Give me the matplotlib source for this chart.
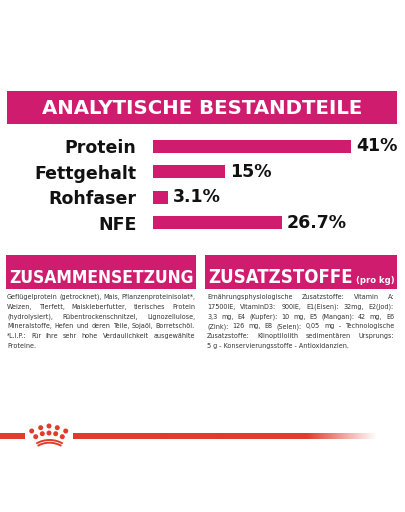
import numpy as np
import matplotlib
matplotlib.use("Agg")
import matplotlib.pyplot as plt
from matplotlib.patches import Rectangle, Circle, Arc

# data
categories = ["Protein", "Fettgehalt", "Rohfaser", "NFE"]
values = [41, 15, 3.1, 26.7]
value_labels = ["41%", "15%", "3.1%", "26.7%"]

title = "ANALYTISCHE BESTANDTEILE"
left_head = "ZUSAMMENSETZUNG"
right_head = "ZUSATZSTOFFE"
right_head_small = "(pro kg)"

left_lines = [
    "Geflügelprotein (getrocknet), Mais, Pflanzenproteinisolat*,",
    "Weizen, Tierfett, Maiskleberfutter, tierisches Protein",
    "(hydrolysiert), Rübentrockenschnitzel, Lignozellulose,",
    "Mineralstoffe, Hefen und deren Teile, Sojaöl, Borretschöl.",
    "*L.I.P.: Für ihre sehr hohe Verdaulichkeit ausgewählte",
    "Proteine.",
]
right_lines = [
    "Ernährungsphysiologische Zusatzstoffe: Vitamin A:",
    "17500IE, VitaminD3: 900IE, E1(Eisen): 32mg, E2(Jod):",
    "3,3 mg, E4 (Kupfer): 10 mg, E5 (Mangan): 42 mg, E6",
    "(Zink): 126 mg, E8 (Selen): 0,05 mg - Technologische",
    "Zusatzstoffe: Klinoptilolith sedimentären Ursprungs:",
    "5 g - Konservierungsstoffe - Antioxidanzien.",
]
# lines that end a paragraph (not stretched)
left_last = [5]
right_last = [5]

PINK = "#cf1c6f"
RED = "#e03c2c"
GREY = "#333333"
BODY = dict(family="DejaVu Sans", fontstretch="condensed")
MIN_GAP = 1.8  # px between words

W, H = 405, 512
fig = plt.figure(figsize=(W / 100, H / 100), dpi=100)
bg = fig.add_axes([0, 0, 1, 1])
bg.set_xlim(0, W)
bg.set_ylim(H, 0)
bg.axis("off")
renderer = fig.canvas.get_renderer()


def width_of(t):
    return t.get_window_extent(renderer).width


def fit(t, w):
    t.set_fontsize(t.get_fontsize() * w / width_of(t))


def words_width(words, size):
    total = 0
    for w in words:
        p = bg.text(0, 0, w, fontsize=size, **BODY)
        total += width_of(p)
        p.remove()
    return total


def body_size(columns, cap=5.6):
    # largest common size where every stretched line still fits
    size = cap
    for lines, last, x0, x1 in columns:
        for i, line in enumerate(lines):
            if i in last:
                continue
            words = line.split(" ")
            ww = words_width(words, 10)
            size = min(size, 10 * (x1 - x0 - (len(words) - 1) * MIN_GAP) / ww)
    return size


def justify(lines, last, x0, x1, y0, dy, size):
    for i, line in enumerate(lines):
        y = y0 + i * dy
        words = line.split(" ")
        if i in last or len(words) == 1:
            bg.text(x0, y, line, fontsize=size, color=GREY,
                    ha="left", va="center", **BODY)
            continue
        ts = [bg.text(0, y, w, fontsize=size, color=GREY,
                      ha="left", va="center", **BODY) for w in words]
        ws = [width_of(t) for t in ts]
        gap = (x1 - x0 - sum(ws)) / (len(ws) - 1)
        x = x0
        for t, w in zip(ts, ws):
            t.set_x(x)
            x += w + gap


# title band
bg.add_patch(Rectangle((7, 91), 390, 33, color=PINK, lw=0))
t = bg.text(202, 108, title, color="white", fontsize=16, fontweight="bold",
            family="DejaVu Sans", ha="center", va="center")
fit(t, 320)

# bar chart
scale = 4.83  # px per percent
x_left, top, bottom = 153, 133.8, 235.2
ax = fig.add_axes([x_left / W, 1 - bottom / H, (W - x_left) / W, (bottom - top) / H])
ypos = np.arange(len(categories))
ax.barh(ypos, values, height=0.51, color=PINK)
ax.set_xlim(0, (W - x_left) / scale)
ax.set_ylim(len(categories) - 0.5, -0.5)
ax.set_yticks(ypos)
ax.set_yticklabels(categories, fontsize=12.5, fontweight="bold", color="#111111",
                   family="DejaVu Sans")
ax.tick_params(axis="y", length=0, pad=12)
ax.set_xticks([])
for s in ax.spines.values():
    s.set_visible(False)
ax.patch.set_alpha(0)
for y, v, lab in zip(ypos, values, value_labels):
    ax.text(v + 1.0, y, lab, fontsize=12.5, fontweight="bold", color="#111111",
            family="DejaVu Sans", ha="left", va="center")

# section headers
bg.add_patch(Rectangle((6, 255), 190, 34, color=PINK, lw=0))
bg.add_patch(Rectangle((205, 255), 192, 34, color=PINK, lw=0))
t = bg.text(9, 283, left_head, color="white", fontsize=20, fontweight="bold",
            ha="left", va="baseline", **BODY)
fit(t, 184)
t = bg.text(208, 283, right_head, color="white", fontsize=20, fontweight="bold",
            ha="left", va="baseline", **BODY)
fit(t, 144)
t = bg.text(356, 283, right_head_small, color="white", fontsize=10, fontweight="bold",
            ha="left", va="baseline", **BODY)
fit(t, 38)

# body text
cols = [(left_lines, left_last, 7, 195), (right_lines, right_last, 207, 394)]
size = body_size(cols)
justify(left_lines, left_last, 7, 195, 297, 9.8, size)
justify(right_lines, right_last, 207, 394, 297, 9.8, size)

# brand line with fade
bg.add_patch(Rectangle((0, 433), 25, 6, color=RED, lw=0))
n = 400
xs = np.linspace(73, 377, n)
alpha = np.clip((377 - xs) / (377 - 307), 0, 1)
rgba = np.zeros((1, n, 4))
rgba[..., :3] = matplotlib.colors.to_rgb(RED)
rgba[0, :, 3] = alpha
bg.imshow(rgba, extent=(73, 377, 439, 433), aspect="auto", interpolation="bilinear")
bg.set_xlim(0, W)
bg.set_ylim(H, 0)

# crown
dots = [(31.7, 431), (40.7, 427.7), (49, 426), (57.3, 427.7), (65.7, 431),
        (35.7, 436.7), (42.3, 433.7), (49, 433), (55.7, 433.7), (62.3, 436.7)]
for cx, cy in dots:
    bg.add_patch(Circle((cx, cy), 2.5, color=RED, lw=0))
for r in (26.5, 23.8):
    bg.add_patch(Arc((49.5, 466.5), 2 * r, 2 * r, theta1=240, theta2=300,
                     color=RED, lw=1.4))

fig.savefig("out.png", dpi=100)
